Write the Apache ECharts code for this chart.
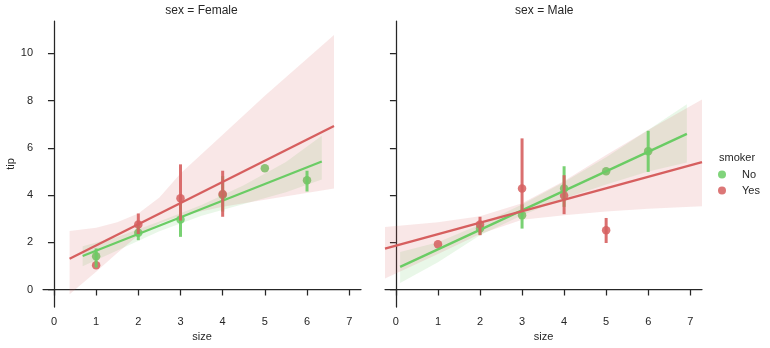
<!DOCTYPE html>
<html>
<head>
<meta charset="utf-8">
<script src="https://cdn.jsdelivr.net/npm/echarts@6/dist/echarts.min.js"></script>
<style>
  html, body { margin: 0; padding: 0; background: #fff; }
  #chart { width: 770px; height: 348px; }
</style>
</head>
<body>
<div id="chart"></div>
<script>
// Tick labels
const xTicks = [0, 1, 2, 3, 4, 5, 6, 7];
const yTicks = [0, 2, 4, 6, 8, 10];

// Mean tip per party size with bootstrap CI: [size, mean, ciLow, ciHigh]
const femaleNoPts  = [[1, 1.41, 0.93, 1.74], [2, 2.40, 2.09, 2.70], [3, 2.97, 2.23, 3.70],
                      [4, 4.00, 3.30, 4.80], [5, 5.13, 5.13, 5.13], [6, 4.63, 4.15, 5.03]];
const femaleYesPts = [[1, 1.03, 1.03, 1.03], [2, 2.75, 2.35, 3.22], [3, 3.86, 2.92, 5.30],
                      [4, 4.04, 3.08, 5.03]];
const maleNoPts    = [[2, 2.58, 2.32, 2.85], [3, 3.15, 2.58, 3.60], [4, 4.28, 3.50, 5.22],
                      [5, 5.01, 5.01, 5.01], [6, 5.86, 4.98, 6.72]];
const maleYesPts   = [[1, 1.92, 1.92, 1.92], [2, 2.75, 2.30, 3.08], [3, 4.28, 3.36, 6.40],
                      [4, 3.98, 3.19, 4.84], [5, 2.51, 1.97, 3.03]];

// Regression line end points [size, tip]
const femaleNoFit  = [[0.68, 1.42], [6.35, 5.42]];
const femaleYesFit = [[0.37, 1.30], [6.64, 6.92]];
const maleNoFit    = [[0.10, 0.96], [6.92, 6.59]];
const maleYesFit   = [[-0.26, 1.73], [7.28, 5.39]];

// Confidence bands of the fits
const femaleNoBandX  = [0.68, 1.5, 2.5, 3.5, 4.5, 5.5, 6.35];
const femaleNoBandLo = [0.99, 1.65, 2.47, 3.12, 3.62, 4.12, 4.66];
const femaleNoBandHi = [1.83, 2.22, 2.88, 3.58, 4.42, 5.40, 6.51];

const femaleYesBandX  = [0.37, 1.0, 1.5, 2.0, 2.5, 3.0, 4.0, 5.0, 6.64];
const femaleYesBandLo = [-0.20, 0.75, 1.55, 2.30, 2.80, 3.12, 3.50, 3.80, 4.28];
const femaleYesBandHi = [2.48, 2.62, 2.85, 3.22, 3.90, 4.91, 6.55, 8.20, 10.78];

const maleNoBandX  = [0.10, 1, 2, 3, 4, 5, 6, 6.92];
const maleNoBandLo = [0.28, 1.15, 2.30, 3.15, 3.85, 4.45, 5.00, 5.38];
const maleNoBandHi = [1.59, 2.00, 2.75, 3.60, 4.55, 5.60, 6.75, 7.85];

const maleYesBandX  = [-0.26, 1, 2, 3, 4, 5, 6, 7.28];
const maleYesBandLo = [0.47, 1.50, 2.35, 2.95, 3.15, 3.30, 3.42, 3.53];
const maleYesBandHi = [2.65, 2.85, 3.10, 3.65, 4.60, 5.70, 6.75, 8.05];

const GREEN = '#6acc64';
const RED = '#d65f5f';
const INK = '#262626';
const FONT = 'Liberation Sans, Arial, sans-serif';

function xAxis(gridIndex) {
  return {
    type: 'value', gridIndex, min: -0.26, max: 7.28,
    name: 'size', nameLocation: 'middle', nameGap: 21,
    nameTextStyle: { color: INK, fontSize: 11, fontFamily: FONT },
    splitLine: { show: false },
    axisLine: { show: true, lineStyle: { color: INK, width: 1.25 } },
    axisTick: { show: true, length: 6, customValues: xTicks, lineStyle: { color: INK, width: 1.25 } },
    axisLabel: { customValues: xTicks, margin: 9, color: INK, fontSize: 11, fontFamily: FONT }
  };
}
function yAxis(gridIndex, labels) {
  return {
    type: 'value', gridIndex, min: -0.74, max: 11.37,
    name: labels ? 'tip' : '', nameLocation: 'middle', nameGap: 24, nameRotate: 90,
    nameTextStyle: { color: INK, fontSize: 11, fontFamily: FONT },
    splitLine: { show: false },
    axisLine: { show: true, lineStyle: { color: INK, width: 1.25 } },
    axisTick: { show: true, length: 6, customValues: yTicks, lineStyle: { color: INK, width: 1.25 } },
    axisLabel: { show: labels, customValues: yTicks, margin: 10, color: INK, fontSize: 11, fontFamily: FONT }
  };
}

function dots(name, idx, pts, color, z) {
  return {
    type: 'scatter', name, xAxisIndex: idx, yAxisIndex: idx, z,
    symbol: 'circle', symbolSize: 8.5,
    itemStyle: { color, opacity: 0.85 },
    data: pts.map(p => [p[0], p[1]])
  };
}
function errorBars(name, idx, pts, color, z) {
  return {
    type: 'custom', name, xAxisIndex: idx, yAxisIndex: idx, z, silent: true,
    encode: { x: 0, y: [1, 2, 3] },
    data: pts,
    renderItem(params, api) {
      const x = api.value(0), lo = api.value(2), hi = api.value(3);
      if (lo === hi) return null;
      const a = api.coord([x, lo]), b = api.coord([x, hi]);
      return {
        type: 'line',
        shape: { x1: a[0], y1: a[1], x2: b[0], y2: b[1] },
        style: { stroke: color, lineWidth: 3, opacity: 0.9 }
      };
    }
  };
}
function band(name, idx, xs, lo, hi, color, z) {
  return {
    type: 'custom', name, xAxisIndex: idx, yAxisIndex: idx, z, silent: true,
    data: [[xs[0], lo[0]]],
    renderItem(params, api) {
      const pts = [];
      for (let i = 0; i < xs.length; i++) pts.push(api.coord([xs[i], hi[i]]));
      for (let i = xs.length - 1; i >= 0; i--) pts.push(api.coord([xs[i], lo[i]]));
      return { type: 'polygon', shape: { points: pts }, style: { fill: color, opacity: 0.15 } };
    }
  };
}
function fitLine(name, idx, fit, color, z) {
  return {
    type: 'line', name, xAxisIndex: idx, yAxisIndex: idx, z,
    data: fit, symbol: 'none', silent: true,
    lineStyle: { color, width: 2.3 }
  };
}

function panel(idx, noPts, yesPts, noFit, yesFit, noBand, yesBand) {
  return [
    dots('No', idx, noPts, GREEN, 2),
    band('No', idx, noBand[0], noBand[1], noBand[2], GREEN, 3),
    dots('Yes', idx, yesPts, RED, 4),
    band('Yes', idx, yesBand[0], yesBand[1], yesBand[2], RED, 5),
    errorBars('No', idx, noPts, GREEN, 6),
    fitLine('No', idx, noFit, GREEN, 7),
    errorBars('Yes', idx, yesPts, RED, 8),
    fitLine('Yes', idx, yesFit, RED, 9)
  ];
}

const chart = echarts.init(document.getElementById('chart'), null, { renderer: 'canvas' });
chart.setOption({
  animation: false,
  backgroundColor: '#ffffff',
  grid: [
    { left: 43, top: 21, width: 318, height: 286 },
    { left: 385, top: 21, width: 317, height: 286 }
  ],
  xAxis: [xAxis(0), xAxis(1)],
  yAxis: [yAxis(0, true), yAxis(1, false)],
  legend: {
    data: [{ name: 'No', icon: 'circle' }, { name: 'Yes', icon: 'circle' }],
    orient: 'vertical', left: 718, top: 169, padding: 0,
    itemWidth: 8, itemHeight: 8, itemGap: 5,
    textStyle: { color: INK, fontSize: 11, fontFamily: FONT, padding: [0, 0, 0, 11] },
    selectedMode: false
  },
  graphic: [
    { type: 'text', position: [201.5, 11], style: { text: 'sex = Female', fill: INK, font: '12px ' + FONT, align: 'center', verticalAlign: 'middle' } },
    { type: 'text', position: [544.3, 11], style: { text: 'sex = Male', fill: INK, font: '12px ' + FONT, align: 'center', verticalAlign: 'middle' } },
    { type: 'text', position: [719, 158], style: { text: 'smoker', fill: INK, font: '11px ' + FONT, align: 'left', verticalAlign: 'middle' } }
  ],
  series: [
    ...panel(0, femaleNoPts, femaleYesPts, femaleNoFit, femaleYesFit,
      [femaleNoBandX, femaleNoBandLo, femaleNoBandHi], [femaleYesBandX, femaleYesBandLo, femaleYesBandHi]),
    ...panel(1, maleNoPts, maleYesPts, maleNoFit, maleYesFit,
      [maleNoBandX, maleNoBandLo, maleNoBandHi], [maleYesBandX, maleYesBandLo, maleYesBandHi])
  ]
});
</script>
</body>
</html>
